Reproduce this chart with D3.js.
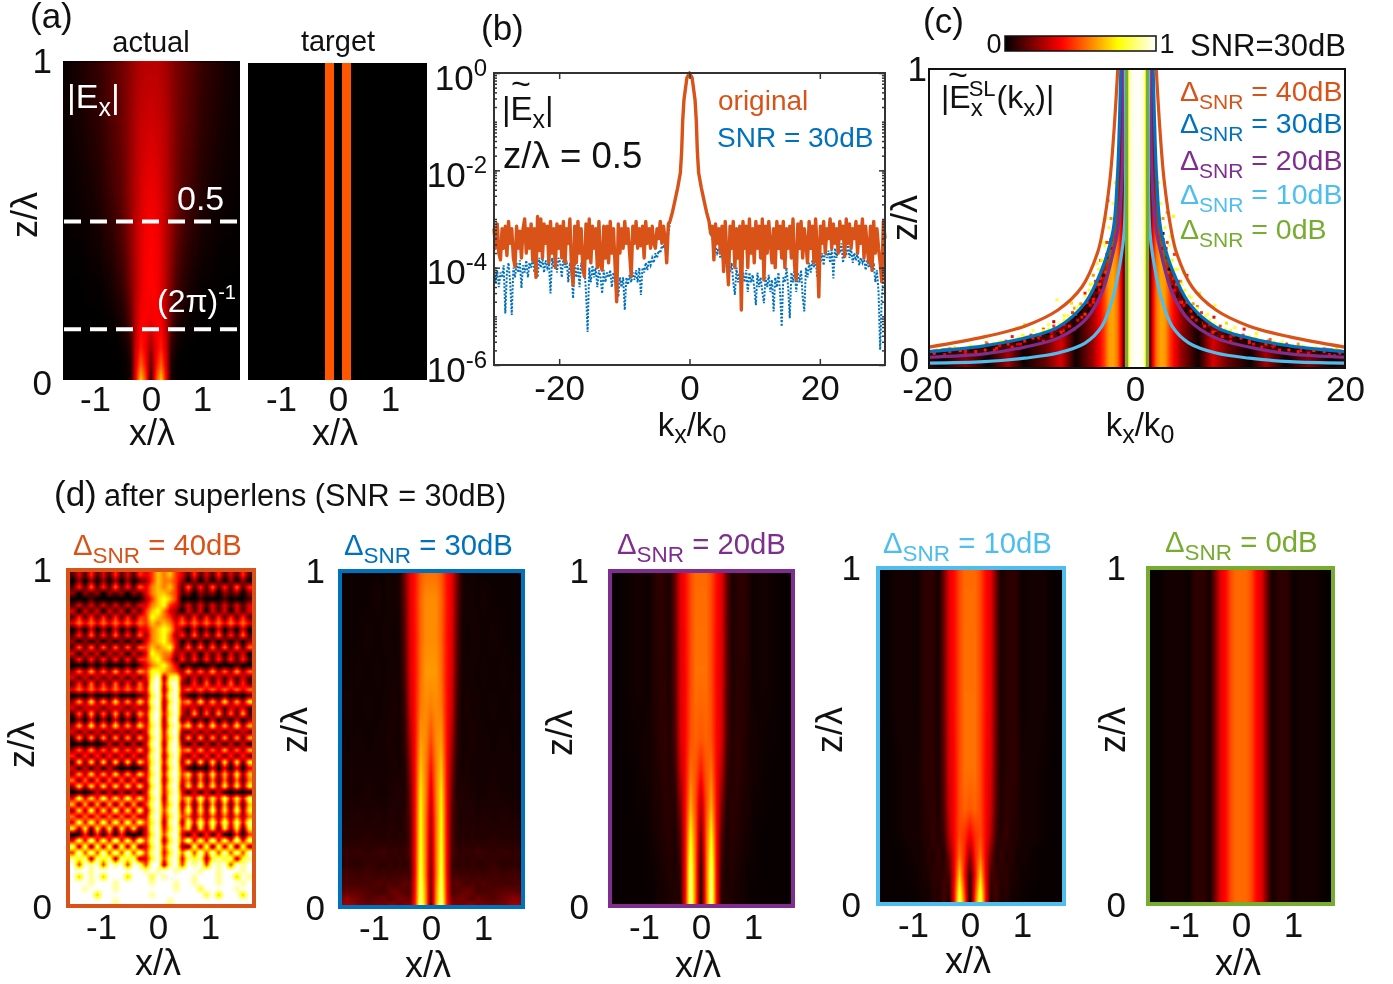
<!DOCTYPE html>
<html>
<head>
<meta charset="utf-8">
<title>Superlens field maps</title>
<style>
body { margin: 0; background: white; font-family: "Liberation Sans", Arial, sans-serif; }
#field, #plot { position: absolute; left: 0; top: 0; }
text { font-family: "Liberation Sans", Arial, sans-serif; }
</style>
</head>
<body>
<canvas id="field" width="1393" height="984"></canvas>
<svg id="plot" width="1393" height="984"></svg>
<script src="https://cdnjs.cloudflare.com/ajax/libs/d3/7.8.5/d3.min.js"></script>
<script>
// colour map (matlab hot)
var hotStops = [0, 0.375, 0.75, 1];
var hotColours = ["#000000", "#ff0000", "#ffff00", "#ffffff"];

// matlab line colours
var orange = "#D95319", blue = "#0072BD", purple = "#7E2F8E", sky = "#4DBEEE", green = "#77AC30";

// half profiles |x/lambda| used by the smooth maps
var xCols = [0, .1, .2, .3, .4, .5, .6, .7, .8, .9, 1, 1.2, 1.4, 1.6, 1.8];

var actualZ = [1.006, 1, .8, .6, .45, .3, .2, .15, .1, .05, 0];
var actualGrid = [
  [.30,.30,.28,.26,.22,.18,.14,.10,.06,.04,.02,.01,.01,0,0],
  [.27,.27,.26,.24,.21,.18,.16,.14,.12,.10,.08,.06,.04,.02,.01],
  [.31,.30,.29,.26,.22,.18,.15,.13,.11,.09,.07,.05,.03,.02,.01],
  [.35,.34,.31,.27,.22,.17,.13,.11,.09,.07,.05,.03,.02,.01,.01],
  [.37,.36,.33,.27,.21,.15,.11,.08,.06,.05,.03,.02,.01,.01,0],
  [.38,.37,.33,.26,.18,.11,.07,.05,.03,.02,.01,.01,0,0,0],
  [.36,.37,.36,.27,.14,.07,.04,.02,.01,.01,0,0,0,0,0],
  [.30,.36,.38,.28,.10,.04,.02,.01,.01,0,0,0,0,0,0],
  [.22,.35,.42,.30,.07,.02,.01,0,0,0,0,0,0,0,0],
  [.14,.38,.52,.32,.04,.01,0,0,0,0,0,0,0,0,0],
  [.08,.46,.68,.36,.03,.01,0,0,0,0,0,0,0,0,0]
];

var targetX = [0, .075, .08, .25, .255, 1.8];
var targetZ = [1, 0];
var targetGrid = [[0, 0, .5, .5, 0, 0], [0, 0, .5, .5, 0, 0]];

// 40 dB map, digits 0-9 are brightness tenths, top row first
var snr40Rows = [
  "131413141314346564314131413141",
  "020202020201246554202020202020",
  "141514151415356564151415141514",
  "202120212021356654120212021202",
  "000100000000246764000100010001",
  "131313131313356743131313131313",
  "303130313031467532031303130313",
  "141414141414476542414141414141",
  "353535353535465653535353535353",
  "020302030203356763203020302030",
  "141514151415256752415141514151",
  "202020202020356753020202020202",
  "151515151515465673151515151515",
  "303130313031376552313031303130",
  "141414141414467541414141414141",
  "000101000101356753010001000100",
  "252625262526477654262526252625",
  "313131313131379278313131313131",
  "141514151415289389214151415141",
  "353535353535389279353535353535",
  "000100010001279389200100010001",
  "262726272627389279462726272627",
  "313231323132279289323132313231",
  "151615161516389379316151615161",
  "020302030203289289130203020302",
  "262726272627379279472627262726",
  "313131313131389389213131313131",
  "161616161616279379161616161616",
  "000000303030389289203030303030",
  "252625262526279389462625262526",
  "414141414141389279314141414141",
  "171717171717379389271717171717",
  "303030300000289279300003030303",
  "262726272627379389472627262726",
  "515151515151389279351515151515",
  "272727272727279389272727272727",
  "000030303030389379303030300000",
  "383738373837379289473837383738",
  "616161616161489379261616161616",
  "272827282728279489382728272827",
  "525252525252389379452525252525",
  "383838383838479289283838383838",
  "727172717271389379471727172717",
  "004040404000379489304040400404",
  "383938393839489279493839383938",
  "828182818281379489218281828182",
  "494949494949489379594949494949",
  "878287828782379489387827878278",
  "949894989498499289498949894989",
  "999899999999898998999899899989",
  "969896999699979899998999899698",
  "999899989999989998998999899989",
  "998999989999999998999799999899",
  "999969999999989999999979699969",
  "999999989999999989999999999999"
];

var snr30Z = [1, .92, .8, .7, .6, .5, .42, .34, .26, .2, .16, .12, .09, .065, .04, .02, 0];
var snr30Grid = [
  [.54,.54,.50,.40,.34,.18,.04,.02,.03,.02,.02,.02,.02,.02,.02],
  [.58,.58,.52,.41,.34,.16,.04,.03,.03,.02,.03,.02,.02,.02,.02],
  [.58,.58,.52,.40,.33,.14,.03,.02,.03,.03,.02,.03,.02,.02,.02],
  [.60,.60,.53,.40,.32,.12,.03,.03,.03,.02,.03,.02,.03,.02,.03],
  [.56,.58,.55,.40,.30,.09,.03,.04,.03,.03,.02,.03,.02,.03,.02],
  [.48,.58,.60,.40,.25,.07,.03,.03,.04,.03,.03,.02,.03,.02,.03],
  [.40,.56,.66,.40,.20,.05,.03,.04,.03,.03,.03,.03,.03,.03,.03],
  [.32,.56,.72,.40,.16,.04,.05,.04,.04,.03,.03,.04,.03,.03,.03],
  [.26,.54,.76,.40,.13,.06,.04,.05,.05,.04,.05,.04,.05,.04,.04],
  [.22,.54,.78,.40,.12,.05,.06,.05,.06,.05,.05,.06,.05,.05,.05],
  [.20,.54,.80,.40,.12,.08,.07,.08,.07,.09,.08,.07,.08,.07,.08],
  [.18,.54,.82,.40,.10,.06,.08,.06,.08,.06,.07,.08,.06,.07,.06],
  [.16,.54,.84,.40,.10,.10,.09,.10,.08,.10,.08,.10,.09,.10,.09],
  [.16,.56,.86,.42,.12,.14,.12,.10,.12,.10,.12,.10,.10,.10,.12],
  [.14,.58,.88,.42,.12,.12,.14,.16,.14,.10,.10,.12,.14,.14,.12],
  [.14,.58,.90,.43,.14,.16,.18,.14,.12,.16,.14,.12,.16,.20,.18],
  [.12,.60,.92,.44,.20,.18,.16,.20,.20,.16,.18,.16,.18,.24,.20]
];

var snr20Z = [1, .7, .5, .4, .3, .2, .1, 0];
var snr20Grid = [
  [.53,.53,.48,.39,.33,.15,.04,.06,.07,.05,.02,.03,.02,.01,.01],
  [.54,.54,.48,.38,.32,.13,.04,.06,.06,.05,.02,.03,.02,.01,.01],
  [.50,.52,.49,.38,.31,.11,.05,.07,.06,.04,.03,.02,.02,.01,.01],
  [.40,.50,.54,.38,.26,.08,.05,.07,.05,.04,.03,.02,.01,.01,.01],
  [.26,.48,.62,.38,.18,.05,.06,.06,.04,.04,.02,.02,.01,.01,.01],
  [.14,.50,.76,.38,.11,.04,.06,.05,.04,.03,.02,.01,.01,.01,.01],
  [.05,.50,.88,.38,.07,.04,.05,.04,.03,.02,.02,.01,.01,.01,.01],
  [.02,.50,.93,.38,.04,.05,.04,.03,.03,.02,.01,.01,.01,.01,.01]
];

var snr10Z = [1, .6, .4, .28, .2, .14, .08, .03, 0];
var snr10Grid = [
  [.53,.53,.48,.39,.34,.17,.03,.06,.07,.06,.02,.03,.03,.01,.01],
  [.54,.54,.48,.39,.33,.16,.03,.06,.07,.06,.02,.03,.03,.01,.01],
  [.54,.54,.48,.38,.32,.14,.04,.06,.07,.06,.03,.03,.02,.01,.01],
  [.50,.52,.48,.38,.30,.12,.04,.07,.06,.05,.03,.03,.02,.01,.01],
  [.36,.44,.48,.38,.26,.09,.05,.08,.05,.05,.03,.03,.02,.01,.01],
  [.20,.42,.54,.36,.17,.05,.08,.05,.06,.03,.03,.02,.01,.01,.01],
  [.06,.38,.68,.36,.10,.08,.06,.07,.04,.04,.02,.02,.01,.01,.01],
  [.03,.45,.82,.40,.06,.10,.05,.06,.03,.03,.02,.01,.01,.01,.01],
  [.02,.50,.88,.40,.04,.10,.04,.06,.03,.02,.02,.01,.01,.01,.01]
];

var snr0Z = [1, 0];
var snr0Row = [.53,.53,.48,.38,.33,.16,.03,.06,.07,.06,.02,.03,.03,.01,.01];

// panel (b): log10 of the spectrum, noise floor left and right of the peak
var peakK = [-3, -2.6, -2.2, -1.8, -1.6, -1.4, -1.2, -1.05, -.85, -.4, 0, .4, .85, 1.05, 1.2, 1.4, 1.6, 1.8, 2.2, 2.6, 3];
var peakLog = [-3.05, -2.85, -2.6, -2.35, -2.2, -2.05, -1.6, -1, -.55, -.1, 0, -.1, -.55, -1, -1.6, -2.05, -2.2, -2.35, -2.6, -2.85, -3.05];
var originalLeft = [
  -3.2,-3.6,-3.1,-3.7,-3.84,-3.2,-3.6,-3.15,-3.75,-3.05,
  -3.5,-3.2,-3.8,-3.98,-3.15,-3.6,-3.25,-3.8,-3.2,-3.0,
  -3.7,-3.2,-3.6,-3.1,-3.85,-3.2,-4.2,-2.95,-3.65,-3.0,
  -3.8,-3.1,-3.5,-3.15,-3.9,-3.05,-3.7,-3.2,-4.0,-3.1,
  -3.6,-3.15,-3.8,-3.05,-3.9,-3.2,-3.5,-3.0,-4.0,-4.35,
  -3.15,-3.9,-3.05,-3.7,-3.2,-4.0,-4.18,-3.1,-3.8,-3.0,
  -3.9,-3.15,-3.6,-3.2,-4.0,-3.05,-3.95,-4.05,-3.15,-3.8,
  -3.15,-3.9,-3.05,-3.7,-3.2,-3.95,-4.7,-3.1,-3.7,-3.2,
  -3.6,-3.05,-3.5,-3.2,-3.7,-4.18,-3.15,-3.5,-3.05,-3.6,
  -3.2,-3.55,-3.15,-3.8,-3.05,-3.5,-3.2,-3.6,-3.15,-3.5,
  -3.6,-3.2,-3.4,-3.05,-3.5,-3.15,-3.4,-3.9,-3.1,-3.05
];
var originalRight = [
  -3.05,-3.3,-3.15,-3.84,-3.1,-3.5,-3.2,-3.7,-3.15,-4.08,
  -3.05,-3.7,-4.35,-3.15,-3.6,-3.05,-4.0,-3.2,-3.8,-3.15,
  -4.87,-3.05,-3.6,-3.15,-4.0,-3.0,-3.7,-3.2,-3.9,-3.05,
  -3.6,-3.15,-3.8,-3.0,-4.25,-3.15,-3.7,-3.05,-3.5,-3.9,
  -3.2,-4.0,-3.05,-3.6,-3.15,-3.8,-3.05,-4.0,-3.2,-3.6,
  -3.15,-3.8,-3.0,-3.95,-4.25,-3.1,-3.6,-3.05,-3.8,-3.2,
  -3.5,-3.9,-3.05,-3.6,-3.15,-3.9,-3.0,-3.6,-4.6,-3.15,
  -3.5,-3.05,-3.7,-3.2,-3.4,-3.0,-3.6,-3.1,-3.5,-3.2,
  -3.7,-3.05,-3.4,-3.15,-3.77,-3.0,-3.5,-3.1,-3.6,-3.2,
  -3.4,-3.05,-3.7,-3.15,-3.5,-3.0,-3.8,-3.15,-3.6,-3.9,
  -3.15,-4.05,-3.05,-3.7,-3.2,-3.6,-3.9,-4.29,-3.05,-3.4
];
var filteredLeft = [
  -4.0,-4.3,-4.05,-4.4,-4.1,-4.2,-3.95,-4.94,-4.1,-3.9,
  -4.3,-4.97,-4.0,-4.2,-3.9,-4.1,-3.85,-4.42,-3.95,-4.1,
  -3.85,-4.2,-3.9,-4.0,-3.8,-4.1,-3.9,-4.2,-3.8,-4.0,
  -3.8,-4.1,-3.85,-4.0,-3.9,-4.53,-3.8,-4.0,-3.7,-4.1,
  -3.8,-3.9,-4.2,-3.75,-4.0,-3.85,-4.3,-3.9,-4.1,-4.63,
  -3.9,-4.2,-3.95,-4.4,-3.9,-4.1,-4.0,-4.5,-5.32,-4.0,
  -4.3,-3.95,-4.2,-4.0,-4.4,-4.05,-4.2,-4.53,-4.05,-4.3,
  -4.1,-4.2,-4.05,-4.4,-4.1,-4.3,-4.15,-4.6,-4.2,-4.4,
  -4.2,-4.87,-4.2,-4.35,-4.15,-4.3,-4.1,-4.25,-4.05,-4.3,
  -4.0,-4.56,-4.0,-4.1,-3.9,-4.05,-3.85,-3.95,-3.8,-3.9,
  -3.7,-3.8,-3.65,-3.7,-3.55,-3.6,-3.45,-3.5,-3.3,-3.1
];
var filteredRight = [
  -3.1,-3.3,-3.4,-3.5,-3.55,-3.7,-3.6,-3.8,-3.75,-3.9,
  -3.8,-4.0,-3.9,-4.1,-3.9,-4.3,-4.56,-4.0,-4.3,-4.1,
  -4.4,-4.1,-4.3,-4.05,-4.5,-4.1,-4.3,-4.15,-4.4,-4.77,
  -4.1,-4.4,-4.2,-4.5,-4.73,-4.2,-4.4,-4.15,-4.5,-4.25,
  -4.9,-4.2,-4.4,-4.1,-4.5,-5.21,-4.2,-4.3,-4.0,-4.4,
  -5.04,-4.1,-4.3,-4.0,-4.5,-4.1,-4.3,-4.05,-4.6,-4.9,
  -4.0,-4.2,-3.9,-4.1,-3.85,-4.0,-3.8,-4.2,-3.8,-3.9,
  -3.7,-3.95,-3.6,-3.8,-3.65,-3.9,-3.6,-4.22,-3.6,-3.8,
  -3.6,-3.7,-3.5,-3.9,-3.6,-3.75,-3.5,-3.8,-3.6,-3.9,
  -3.7,-3.85,-3.7,-3.95,-3.8,-3.9,-3.8,-4.05,-3.85,-4.0,
  -3.9,-4.1,-3.9,-4.3,-4.05,-4.5,-5.69,-4.6,-4.2,-3.9
];

// panel (c): stripes along k, and the cut-off curves z(|k|)
var stripeK = [0, .6, .85, 1.05, 1.25, 1.5, 1.9, 2.3, 2.7, 3.2, 4.3, 5.9, 7.3, 8.8, 10.9, 12.4, 14.3, 16.5, 18.8, 20];
var stripeV = [1, .97, .78, .5, .1, .35, .55, .62, .6, .45, .22, .02, .32, .15, .02, .24, .02, .2, .02, .1];

var curve40K = [1.85, 2.2, 2.6, 3.3, 3.8, 5.3, 7.6, 10.8, 14.7, 20];
var curve40Z = [1, .8, .63, .46, .385, .271, .194, .14, .104, .07];
var curve30K = [1.55, 1.75, 1.9, 2.3, 3.4, 5, 7.6, 10.8, 14.7, 20];
var curve30Z = [1, .75, .63, .46, .328, .217, .137, .1, .074, .055];
var curve20K = [1.33, 1.45, 1.86, 2.3, 3.4, 5, 7.6, 10.8, 14.7, 20];
var curve20Z = [1, .63, .46, .385, .25, .16, .1, .07, .047, .036];
var curve10K = [1.12, 1.23, 1.63, 2.3, 3.4, 5, 7.6, 10.8, 14.7, 20];
var curve10Z = [1, .46, .35, .238, .138, .083, .05, .033, .021, .016];
var curve0K = [1, 1];
var curve0Z = [1, 0];

// speckle in the noisy band: k, z, level
var lightSpecks = [
  [-19,.062,.8],[-17.5,.068,.7],[-16,.075,.85],[-14.6,.106,.7],[-14.5,.085,.6],[-13,.09,.8],[-12,.105,.4],[-11.6,.134,.8],
  [-11,.11,.75],[-10.8,.145,.7],[-10,.125,.8],[-9,.13,.5],[-8.5,.145,.8],[-8,.155,.3],[-7.7,.228,.8],[-7,.175,.75],
  [-6.5,.17,.85],[-6.3,.217,.7],[-6,.2,.6],[-5.5,.21,.8],[-5,.25,.4],[-4.5,.28,.75],[-4.2,.31,.6],[-3.8,.35,.8],
  [-3.5,.36,.5],[-3.2,.42,.8],[-3,.5,.75],[-2.8,.56,.4],
  [19.2,.065,.7],[17.2,.07,.8],[15.5,.08,.6],[14,.09,.85],[12.8,.095,.5],[11.5,.115,.75],[10.3,.13,.4],[9.4,.135,.8],
  [8.6,.15,.7],[7.5,.21,.8],[7.4,.17,.35],[6.8,.18,.8],[6,.25,.7],[5.8,.205,.5],[5.2,.235,.8],[4.8,.31,.4],
  [4.5,.32,.75],[4.2,.29,.6],[3.9,.33,.8],[3.6,.38,.45],[3.5,.507,.75],[3.2,.44,.8],[2.9,.52,.6]
];
var darkSpecks = [
  [-19.5,.05,.35],[-18,.048,.1],[-16.5,.055,.4],[-15,.06,.15],[-13.5,.066,.4],[-12.5,.078,.05],[-11.5,.08,.35],[-10.5,.085,.1],
  [-9.5,.1,.4],[-9,.09,.05],[-8.2,.118,.3],[-7.5,.11,.05],[-7,.125,.4],[-6.5,.14,.05],[-6,.13,.3],[-5.5,.17,.05],[-5,.18,.45],
  [-4.6,.2,.05],[-4.2,.23,.4],[-3.9,.26,.05],[-3.6,.28,.45],[-3.2,.31,.1],[-2.9,.38,.4],[-2.6,.42,.05],
  [19,.045,.3],[17,.052,.05],[15.8,.058,.4],[14.2,.062,.1],[13,.07,.35],[12,.072,.05],[10.8,.085,.4],[9.8,.09,.05],
  [9,.105,.35],[8.2,.11,.05],[7.5,.12,.4],[6.9,.13,.05],[6.2,.15,.35],[5.7,.16,.05],[5.2,.19,.4],[4.7,.2,.05],
  [4.3,.22,.45],[3.9,.25,.1],[3.5,.3,.4],[3.1,.33,.05],[2.8,.4,.4],[2.5,.45,.1]
];
// these two lists are |k|, drawn on both sides
var denseDark = [
  [2.2,.44,.4],[2.4,.40,.3],[2.5,.43,.05],[2.8,.34,.4],[2.9,.37,.1],[3,.32,.45],[3.4,.27,.05],[3.5,.3,.4],[3.6,.26,.35],[3.8,.28,.45],
  [3.9,.24,.05],[4.2,.22,.4],[4.4,.24,.1],[4.5,.21,.35],[4.7,.19,.05],[4.8,.22,.42],[5.3,.17,.4],[5.5,.19,.05],[5.7,.16,.35],[5.9,.18,.42],
  [6.1,.15,.05],[6.5,.14,.4],[6.8,.125,.05],[7,.145,.35],[7.3,.12,.42],[7.6,.115,.05],[7.9,.13,.38],[8.2,.105,.4],[8.6,.115,.05],[9,.09,.38],
  [9.3,.11,.42],[9.7,.095,.05],[10,.1,.4],[10.4,.085,.05],[10.8,.09,.4],[11.2,.08,.35],[11.6,.088,.05],[12,.07,.4],[12.4,.08,.42],[12.8,.065,.05],
  [13.2,.075,.38],[13.7,.06,.4],[14.1,.07,.05],[14.6,.06,.42],[15,.068,.05],[15.5,.055,.4],[16,.06,.05],[16.5,.05,.35],[17,.058,.42],[17.5,.048,.05],
  [18,.055,.4],[18.5,.045,.35],[19,.052,.05],[19.5,.05,.42]
];
var denseLight = [
  [2.1,.62,.75],[2.3,.55,.8],[2.5,.5,.6],[2.7,.47,.8],[2.9,.42,.45],[3.1,.41,.8],[3.4,.36,.75],[3.7,.33,.8],[4,.29,.45],[4.3,.28,.8],
  [4.6,.26,.75],[5,.24,.8],[5.4,.215,.6],[5.8,.2,.8],[6.2,.185,.45],[6.6,.175,.8],[7,.16,.75],[7.5,.15,.85],[8,.14,.45],[8.5,.13,.8],
  [9,.125,.75],[9.6,.115,.85],[10.2,.11,.45],[10.8,.105,.8],[11.4,.1,.75],[12,.095,.85],[12.6,.09,.5],[13.2,.088,.8],[13.8,.083,.75],[14.4,.08,.45],
  [15,.075,.85],[16,.072,.75],[17,.066,.85],[18,.064,.5],[19,.06,.8]
];

var colorbarTicks = [0, 1];

// ---------------------------------------------------------------------
var svg = d3.select("#plot");
var ctx = document.getElementById("field").getContext("2d");
var colour = d3.scaleLinear().domain(hotStops).range(hotColours).clamp(true);
var lut = d3.range(256).map(function(i) { return d3.rgb(colour(i / 255)); });

// shading interp: values stay in the grid, the picture blends between them
function paintField(xScale, zScale, xs, zs, grid, fold) {
  var x0 = Math.round(xScale.range()[0]), x1 = Math.round(xScale.range()[1]);
  var y0 = Math.round(zScale(d3.max(zs))), y1 = Math.round(zScale(d3.min(zs)));
  var w = x1 - x0, h = y1 - y0;
  var img = ctx.createImageData(w, h);
  var rows = grid.map(function(r) { return d3.scaleLinear().domain(xs).range(r).clamp(true); });
  for (var i = 0; i < w; i++) {
    var x = xScale.invert(x0 + i + .5);
    if (fold) x = Math.abs(x);
    var vals = rows.map(function(s) { return s(x); });
    var col = d3.scaleLinear().domain(zs).range(vals).clamp(true);
    for (var j = 0; j < h; j++) {
      var v = col(zScale.invert(y0 + j + .5));
      var c = lut[Math.max(0, Math.min(255, Math.round(v * 255)))];
      var p = (j * w + i) * 4;
      img.data[p] = c.r; img.data[p + 1] = c.g; img.data[p + 2] = c.b; img.data[p + 3] = 255;
    }
  }
  ctx.putImageData(img, x0, y0);
}

function put(x, y, size, fill, anchor) {
  return svg.append("text").attr("x", x).attr("y", y).attr("font-size", size)
    .attr("fill", fill || "#111").attr("text-anchor", anchor || "start");
}
function span(t, str, dy, size, dx) {
  var s = t.append("tspan").text(str);
  if (dy) s.attr("dy", dy);
  if (dx) s.attr("dx", dx);
  if (size) s.attr("font-size", size);
  return s;
}
function deltaLabel(x, y, db, fill, size, sub) {
  var t = put(x, y, size, fill);
  span(t, "Δ");
  span(t, "SNR", 8, sub);
  span(t, " = " + db + "dB", -8, size);
}
function zLabel(x, y) {
  svg.append("text").attr("transform", "translate(" + (x + 12) + "," + y + ") rotate(-90)")
    .attr("text-anchor", "middle").attr("font-size", 36).attr("fill", "#111").text("z/λ");
}
function xLabel(x, y) { put(x, y, 36, "#111", "middle").text("x/λ"); }
function kLabel(x, y) {
  var t = put(x, y, 33, "#111", "middle");
  span(t, "k");
  span(t, "x", 7, 25);
  span(t, "/k", -7, 33);
  span(t, "0", 7, 25);
}
function plainNumber(d) { return String(d); }

function heatAxes(xScale, zScale, bottom, left, padX, padZ) {
  var gx = svg.append("g").attr("transform", "translate(0," + bottom + ")")
    .call(d3.axisBottom(xScale).tickValues([-1, 0, 1]).tickSize(0).tickPadding(padX).tickFormat(plainNumber));
  gx.select(".domain").remove();
  gx.selectAll("text").attr("font-size", 35).attr("fill", "#111").attr("font-family", null)
    .attr("dx", function(d) { return d < 0 ? -5 : 0; });
  if (left) {
    var gz = svg.append("g").attr("transform", "translate(" + left + ",0)")
      .call(d3.axisLeft(zScale).tickValues([0, 1]).tickSize(0).tickPadding(padZ).tickFormat(plainNumber));
    gz.select(".domain").remove();
    gz.selectAll("text").attr("font-size", 35).attr("fill", "#111").attr("font-family", null)
      .attr("transform", function(d) { return "translate(0," + (d === 0 ? 3 : -2) + ")"; });
  }
}

// (a) -----------------------------------------------------------------
var actualX = d3.scaleLinear().domain([-1.725, 1.745]).range([63, 240]);
var actualZs = d3.scaleLinear().domain([0, 1]).range([380, 63]);
paintField(actualX, actualZs, xCols, actualZ, actualGrid, true);
heatAxes(actualX, actualZs, 380, 63, 6, 11);

var targetXs = d3.scaleLinear().domain([-1.73, 1.71]).range([248, 427]);
var targetZs = d3.scaleLinear().domain([0, 1]).range([380, 63]);
paintField(targetXs, targetZs, targetX, targetZ, targetGrid, true);
heatAxes(targetXs, targetZs, 380, null, 6, 0);

put(30, 28, 35).text("(a)");
put(151, 52, 29, "#111", "middle").text("actual");
put(338, 51, 29, "#111", "middle").text("target");
zLabel(25, 215);
xLabel(152, 445);
xLabel(335, 445);

var ex = put(67, 108, 34, "#fff");
span(ex, "|E");
span(ex, "x", 8, 25);
span(ex, "|", -8, 34);
put(177, 210, 34, "#fff").text("0.5");
var twoPi = put(157, 312, 32, "#fff");
span(twoPi, "(2π)");
span(twoPi, "-1", -13, 20);

[.5, .16].forEach(function(z) {
  svg.append("line").attr("x1", 64).attr("x2", 239)
    .attr("y1", actualZs(z)).attr("y2", actualZs(z))
    .attr("stroke", "#fff").attr("stroke-width", 4).attr("stroke-dasharray", "17 9");
});

// (b) -----------------------------------------------------------------
var bx = d3.scaleLinear().domain([-30, 30]).range([494, 885]);
var by = d3.scaleLog().domain([1e-6, 1]).range([365, 73]);

function spectrum(left, right) {
  var kl = d3.scaleLinear().domain([0, left.length - 1]).range([-30, -3]);
  var kr = d3.scaleLinear().domain([0, right.length - 1]).range([3, 30]);
  return left.map(function(v, i) { return [kl(i), v]; })
    .concat(peakK.map(function(k, i) { return [k, peakLog[i]]; }))
    .concat(right.map(function(v, i) { return [kr(i), v]; }));
}
var bLine = d3.line().x(function(d) { return bx(d[0]); }).y(function(d) { return by(Math.pow(10, d[1])); });

svg.append("path").attr("d", bLine(spectrum(filteredLeft, filteredRight)))
  .attr("fill", "none").attr("stroke", blue).attr("stroke-width", 2).attr("stroke-dasharray", "2 1.6");
svg.append("path").attr("d", bLine(spectrum(originalLeft, originalRight)))
  .attr("fill", "none").attr("stroke", orange).attr("stroke-width", 3.4).attr("stroke-linejoin", "round");

var decades = [1e-6, 1e-4, 1e-2, 1];
var minors = [];
d3.range(-6, 0).forEach(function(e) {
  [2, 3, 4, 5, 6, 7, 8, 9, 10].forEach(function(m) { minors.push(m * Math.pow(10, e)); });
});

function frameAxis(g, axis) {
  g.call(axis);
  g.select(".domain").remove();
  g.selectAll("line").attr("stroke", "#333").attr("stroke-width", 1.5);
  g.selectAll("text").attr("font-size", 35).attr("fill", "#111").attr("font-family", null);
  return g;
}
var kTicks = [-20, 0, 20];
frameAxis(svg.append("g").attr("transform", "translate(0,365)"),
  d3.axisBottom(bx).tickValues(kTicks).tickSize(-6).tickPadding(10).tickFormat(plainNumber));
frameAxis(svg.append("g").attr("transform", "translate(0,73)"),
  d3.axisTop(bx).tickValues(kTicks).tickSize(-6).tickFormat(""));
frameAxis(svg.append("g").attr("transform", "translate(494,0)"),
  d3.axisLeft(by).tickValues(minors).tickSize(-3).tickFormat(""));
frameAxis(svg.append("g").attr("transform", "translate(885,0)"),
  d3.axisRight(by).tickValues(minors).tickSize(-3).tickFormat(""));
frameAxis(svg.append("g").attr("transform", "translate(885,0)"),
  d3.axisRight(by).tickValues(decades).tickSize(-6).tickFormat(""));
var yDec = frameAxis(svg.append("g").attr("transform", "translate(494,0)"),
  d3.axisLeft(by).tickValues(decades).tickSize(-6).tickPadding(7).tickFormat(""));
yDec.selectAll(".tick text").attr("dy", 16).each(function(d) {
  var t = d3.select(this);
  span(t, "10");
  span(t, String(Math.round(Math.log10(d))), -14, 24);
});
svg.append("rect").attr("x", 494).attr("y", 73).attr("width", 391).attr("height", 292)
  .attr("fill", "none").attr("stroke", "#333").attr("stroke-width", 2);

put(481, 40, 35).text("(b)");
var ebx = put(502, 120, 33);
span(ebx, "|E");
span(ebx, "x", 8, 25);
span(ebx, "|", -8, 33);
put(521, 95, 34, "#111", "middle").text("~");
put(503, 168, 36.6).text("z/λ = 0.5");
put(718, 110, 28, orange).text("original");
put(717, 147, 28, blue).text("SNR = 30dB");
kLabel(692, 436);

// (c) -----------------------------------------------------------------
var cx = d3.scaleLinear().domain([-20, 20]).range([929, 1345]);
var cz = d3.scaleLinear().domain([0, 1]).range([368, 69]);
paintField(cx, cz, stripeK, [1, 0], [stripeV, stripeV], true);

var smooth = d3.curveCatmullRom.alpha(.5);
// white above the 30 dB cut-off
var whiteArea = d3.area().curve(smooth).x(function(d) { return cx(d[0]); }).y0(cz(1)).y1(function(d) { return cz(d[1]); });
[-1, 1].forEach(function(side) {
  var pts = curve30K.map(function(k, i) { return [side * k, curve30Z[i]]; });
  svg.append("path").attr("d", whiteArea(pts)).attr("fill", "#fff");
});

var cLine = d3.line().curve(smooth).x(function(d) { return cx(d[0]); }).y(function(d) { return cz(d[1]); });

// darker noisy band between the 30 dB and 20 dB cut-offs
[-1, 1].forEach(function(side) {
  var upper = curve30K.map(function(k, i) { return [side * k, curve30Z[i]]; });
  var lower = curve20K.map(function(k, i) { return [side * k, curve20Z[i]]; }).reverse();
  svg.append("path").attr("d", cLine(upper.concat(lower)) + "Z").attr("fill", "#2a0000").attr("opacity", .45);
});

var mirrored = [];
denseDark.concat(denseLight).forEach(function(d) {
  mirrored.push([-d[0], d[1], d[2]]);
  mirrored.push(d);
});
svg.selectAll("rect.speck").data(lightSpecks.concat(darkSpecks, mirrored)).enter().append("rect")
  .attr("class", "speck")
  .attr("x", function(d) { return cx(d[0]) - 1.5; })
  .attr("y", function(d) { return cz(d[1]) - 1.5; })
  .attr("width", 3).attr("height", 3)
  .attr("fill", function(d) { return colour(d[2]); });

var cutoffs = [
  [curve40K, curve40Z, orange],
  [curve30K, curve30Z, blue],
  [curve20K, curve20Z, purple],
  [curve10K, curve10Z, sky],
  [curve0K, curve0Z, green]
];
cutoffs.forEach(function(c) {
  [-1, 1].forEach(function(side) {
    var pts = c[0].map(function(k, i) { return [side * k, c[1][i]]; });
    svg.append("path").attr("d", cLine(pts))
      .attr("fill", "none").attr("stroke", c[2]).attr("stroke-width", 3.2);
  });
});

svg.append("rect").attr("x", 929).attr("y", 69).attr("width", 416).attr("height", 299)
  .attr("fill", "none").attr("stroke", "#111").attr("stroke-width", 2);

var gcx = svg.append("g").attr("transform", "translate(0,368)")
  .call(d3.axisBottom(cx).tickValues(kTicks).tickSize(0).tickPadding(8).tickFormat(plainNumber));
gcx.select(".domain").remove();
gcx.selectAll("text").attr("font-size", 35).attr("fill", "#111").attr("font-family", null)
  .attr("dx", function(d) { return d === 20 ? 0 : -2; });
var gcz = svg.append("g").attr("transform", "translate(929,0)")
  .call(d3.axisLeft(cz).tickValues([0, 1]).tickSize(0).tickPadding(10).tickFormat(plainNumber));
gcz.select(".domain").remove();
gcz.selectAll("text").attr("font-size", 35).attr("fill", "#111").attr("font-family", null)
  .attr("transform", function(d) { return d === 0 ? "translate(0,-8)" : "translate(8,0)"; });

put(923, 33, 35).text("(c)");
zLabel(905, 218);
kLabel(1140, 436);
var ecx = put(941, 108, 32);
span(ecx, "|E");
span(ecx, "x", 8, 24);
span(ecx, "SL", -20, 22, -14);
span(ecx, "(k", 12, 32, 1);
span(ecx, "x", 8, 24);
span(ecx, ")|", -8, 32);
put(958, 86, 34, "#111", "middle").text("~");

[[40, 101, orange], [30, 133, blue], [20, 170, purple], [10, 204, sky], [0, 239, green]].forEach(function(l) {
  deltaLabel(1180, l[1], l[0], l[2], 28.5, 21);
});

// colour bar
var grad = svg.append("defs").append("linearGradient").attr("id", "hotBar");
hotStops.forEach(function(s, i) {
  grad.append("stop").attr("offset", s).attr("stop-color", hotColours[i]);
});
svg.append("rect").attr("x", 1005).attr("y", 36).attr("width", 151).attr("height", 15)
  .attr("fill", "url(#hotBar)").attr("stroke", "#111").attr("stroke-width", 1.5);
var barScale = d3.scaleLinear().domain([0, 1]).range([1005, 1156]);
put(barScale(0) - 11, 53, 27, "#111", "middle").text(colorbarTicks[0]);
put(barScale(1) + 11, 53, 27, "#111", "middle").text(colorbarTicks[1]);
put(1190, 56, 31).text("SNR=30dB");

// (d) -----------------------------------------------------------------
var digitRows = snr40Rows.map(function(r) { return r.split("").map(function(c) { return +c / 9; }); });
var digitX = d3.range(30).map(function(i) { return -1.69 + (i + .5) * 3.5 / 30; });
var digitZ = d3.range(digitRows.length).map(function(i) { return 1 - (i + .5) / digitRows.length; });

var mapPanels = [
  {x0: 66, x1: 256, y0: 568, y1: 908, zero: 158, colr: orange, db: 40, tx: 73, ty: 555, zx: 22, zy: 745, xlx: 158, xly: 975, padz: 14, xs: digitX, zs: digitZ, grid: digitRows, fold: false},
  {x0: 338, x1: 525, y0: 569, y1: 909, zero: 431, colr: blue, db: 30, tx: 344, ty: 555, zx: 295, zy: 730, xlx: 428, xly: 977, padz: 13, xs: xCols, zs: snr30Z, grid: snr30Grid, fold: true},
  {x0: 608, x1: 795, y0: 569, y1: 908, zero: 701, colr: purple, db: 20, tx: 617, ty: 554, zx: 560, zy: 733, xlx: 698, xly: 977, padz: 19, xs: xCols, zs: snr20Z, grid: snr20Grid, fold: true},
  {x0: 876, x1: 1066, y0: 566, y1: 906, zero: 970, colr: sky, db: 10, tx: 883, ty: 553, zx: 830, zy: 730, xlx: 968, xly: 973, padz: 15, xs: xCols, zs: snr10Z, grid: snr10Grid, fold: true},
  {x0: 1146, x1: 1335, y0: 566, y1: 906, zero: 1241, colr: green, db: 0, tx: 1165, ty: 552, zx: 1113, zy: 730, xlx: 1238, xly: 975, padz: 20, xs: xCols, zs: snr0Z, grid: [snr0Row, snr0Row], fold: true}
];

mapPanels.forEach(function(p) {
  var l = p.x0 + 4, r = p.x1 - 4, t = p.y0 + 4, b = p.y1 - 4;
  var xs = d3.scaleLinear().domain([(l - p.zero) / 52, (r - p.zero) / 52]).range([l, r]);
  var zs = d3.scaleLinear().domain([0, 1]).range([b, t]);
  // the grid may not reach the edges: extend the painted range to the full frame
  var zr = p.zs.slice(), gr = p.grid;
  if (d3.max(zr) < 1) { zr = [1].concat(zr); gr = [gr[0]].concat(gr); }
  if (d3.min(zr) > 0) { zr = zr.concat([0]); gr = gr.concat([gr[gr.length - 1]]); }
  paintField(xs, zs, p.xs, zr, gr, p.fold);
  svg.append("rect").attr("x", p.x0 + 2).attr("y", p.y0 + 2)
    .attr("width", p.x1 - p.x0 - 4).attr("height", p.y1 - p.y0 - 4)
    .attr("fill", "none").attr("stroke", p.colr).attr("stroke-width", 4);
  heatAxes(xs, zs, p.y1, p.x0, 6, p.padz);
  zLabel(p.zx, p.zy);
  xLabel(p.xlx, p.xly);
  deltaLabel(p.tx, p.ty, p.db, p.colr, 29.3, 22.5);
});

put(54, 506, 35).text("(d)");
put(104, 506, 30.6).text("after superlens (SNR = 30dB)");
</script>
</body>
</html>
